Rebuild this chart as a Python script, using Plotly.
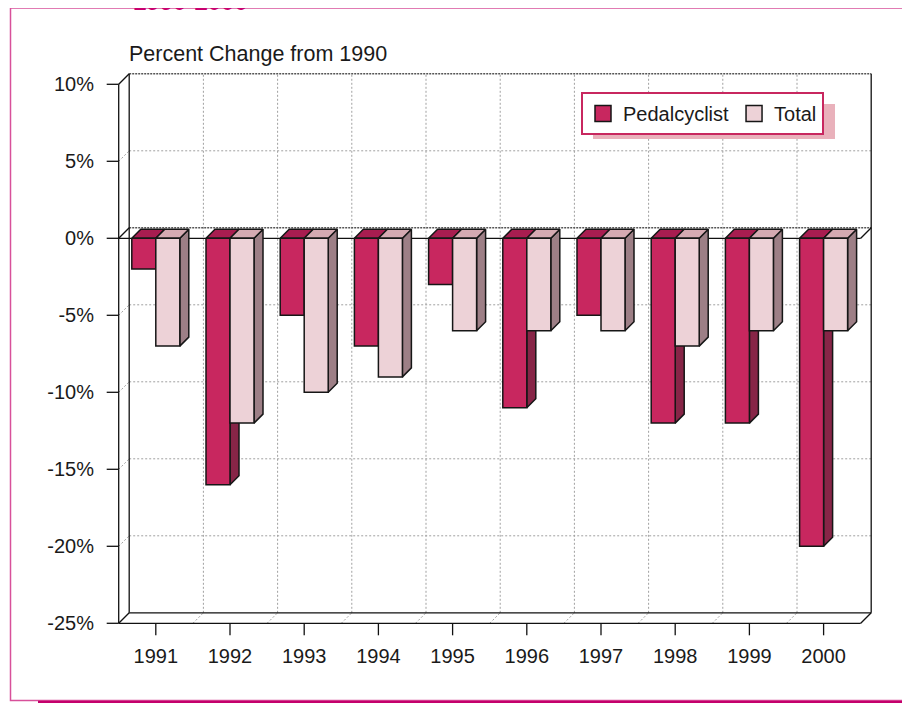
import plotly.graph_objects as go

# ---------------- data ----------------
years = ["1991", "1992", "1993", "1994", "1995", "1996", "1997", "1998", "1999", "2000"]
pedalcyclist = [-2, -16, -5, -7, -3, -11, -5, -12, -12, -20]
total = [-7, -12, -10, -9, -6, -6, -6, -7, -6, -6]
y_tick_vals = [10, 5, 0, -5, -10, -15, -20, -25]
y_tick_text = ["10%", "5%", "0%", "-5%", "-10%", "-15%", "-20%", "-25%"]
y_min, y_max = -25, 10

# ---------------- geometry (page pixels) ----------------
PAGE_W, PAGE_H = 910, 703
OFF = 8                                      # default body margin of the page
FIG_W, FIG_H = PAGE_W - OFF, PAGE_H - OFF
PL, PR, PT, PB = 105, 875, 70, 637           # plot area in page px
FX0 = 118.7                                  # px of front-left edge (x=-0.5)
XPX = 74.2                                   # px per category
FY0 = 238.3                                  # px of y=0 on the front plane
YPX = 15.4                                   # px per percent

x_range = [-0.5 - (FX0 - PL) / XPX, -0.5 + (PR - FX0) / XPX]
y_range = [-(PB - FY0) / YPX, (FY0 - PT) / YPX]

WDX, WDY = 10.5 / XPX, 10.5 / YPX            # wall depth
BW = 24.0 / XPX                               # bar width
BDX, BDY = 9.0 / XPX, 9.0 / YPX               # bar depth
TICKX, TICKY = 12.0 / XPX, 12.0 / YPX

n = len(years)
xl, xr_ = -0.5, n - 0.5


def px2x(p):
    return (p - PL) / (PR - PL)


def px2y(p):
    return (PB - p) / (PB - PT)


def segs(lines):
    xs, ys = [], []
    for (x0, y0, x1, y1) in lines:
        xs += [x0, x1, None]
        ys += [y0, y1, None]
    return xs, ys


def polys(plist):
    xs, ys = [], []
    for pts in plist:
        for (a, b) in pts + [pts[0]]:
            xs.append(a)
            ys.append(b)
        xs.append(None)
        ys.append(None)
    return xs, ys


fig = go.Figure()

# ---- gridlines (dotted grey) ----
grid = []
for v in y_tick_vals:
    if v in (y_min, y_max, 0):
        continue
    grid.append((xl + WDX, v + WDY, xr_ + WDX, v + WDY))      # back wall
    grid.append((xl, v, xl + WDX, v + WDY))                    # left wall
for i in range(n - 1):
    b = i + 0.5
    grid.append((b + WDX, y_min + WDY, b + WDX, y_max + WDY))  # back wall vertical
    grid.append((b, y_min, b + WDX, y_min + WDY))              # floor diagonal
gx, gy = segs(grid)
fig.add_trace(go.Scatter(x=gx, y=gy, mode="lines", line=dict(color="#a0a0a0", width=1, dash="2px,2px"),
                         hoverinfo="skip", showlegend=False))

# ---- dark dotted back lines (top edge, back zero line) ----
dx_, dy_ = segs([(xl + WDX, y_max + WDY, xr_ + WDX, y_max + WDY),
                 (xl + WDX, 0 + WDY, xr_ + WDX, 0 + WDY)])
fig.add_trace(go.Scatter(x=dx_, y=dy_, mode="lines", line=dict(color="#555555", width=1.5, dash="2px,1px"),
                         hoverinfo="skip", showlegend=False))

# ---- solid box edges, axis lines and ticks ----
edges = [
    (xl, y_min, xl, y_max),                                   # front left axis
    (xl, y_max, xl + WDX, y_max + WDY),                       # top-left diagonal
    (xl, y_min, xl + WDX, y_min + WDY),                       # bottom-left diagonal
    (xr_, y_min, xr_ + WDX, y_min + WDY),                     # bottom-right diagonal
    (xl, y_min, xr_, y_min),                                  # front floor
    (xl + WDX, y_min + WDY, xr_ + WDX, y_min + WDY),          # back floor
    (xl + WDX, y_min + WDY, xl + WDX, y_max + WDY),           # back left
    (xr_ + WDX, y_min + WDY, xr_ + WDX, y_max + WDY),         # back right
    (xl, 0, xr_, 0),                                          # zero plane front
    (xl, 0, xl + WDX, WDY),                                   # zero plane left
    (xr_, 0, xr_ + WDX, WDY),                                 # zero plane right
]
for v in y_tick_vals:
    edges.append((xl - TICKX, v, xl, v))
for i in range(n):
    edges.append((i, y_min, i, y_min - TICKY))
ex, ey = segs(edges)
fig.add_trace(go.Scatter(x=ex, y=ey, mode="lines", line=dict(color="#111111", width=1.3),
                         hoverinfo="skip", showlegend=False))


# ---- 3D bars ----
def bar_faces(values, offset):
    fronts, tops, sides = [], [], []
    for i, v in enumerate(values):
        x0 = i + offset
        x1 = x0 + BW
        fronts.append([(x0, 0), (x1, 0), (x1, v), (x0, v)])
        tops.append([(x0, 0), (x1, 0), (x1 + BDX, BDY), (x0 + BDX, BDY)])
        sides.append([(x1, 0), (x1 + BDX, BDY), (x1 + BDX, v + BDY), (x1, v)])
    return fronts, tops, sides


series = [
    (pedalcyclist, -BW, "#C8275F", "#A81D50", "#872547"),
    (total, 0.0, "#EDD2D7", "#D5AAB2", "#9D7F86"),
]
for vals, off, c_front, c_top, c_side in series:
    fr, tp, sd = bar_faces(vals, off)
    for faces, col in ((sd, c_side), (tp, c_top), (fr, c_front)):
        px_, py_ = polys(faces)
        fig.add_trace(go.Scatter(x=px_, y=py_, mode="lines", fill="toself", fillcolor=col,
                                 line=dict(color="#161616", width=1.5), hoverinfo="skip",
                                 showlegend=False))

# ---- legend entries ----
for name, col in (("Pedalcyclist", "#C8275F"), ("Total", "#EDD2D7")):
    fig.add_trace(go.Scatter(x=[None], y=[None], mode="markers", name=name,
                             marker=dict(symbol="square", size=16, color=col,
                                         line=dict(color="#161616", width=1.5))))

FONT = "Arial, Liberation Sans, sans-serif"

shapes = [
    # legend shadow
    dict(type="rect", xref="paper", yref="paper", layer="above",
         x0=px2x(593), x1=px2x(835), y0=px2y(104), y1=px2y(139),
         fillcolor="#E9B1BB", line=dict(width=0)),
    # outer frame
    dict(type="rect", xref="paper", yref="paper", layer="above",
         x0=px2x(10.5), x1=px2x(906), y0=px2y(8), y1=px2y(700.5),
         fillcolor="rgba(0,0,0,0)", line=dict(color="#D8509A", width=1.5)),
    dict(type="rect", xref="paper", yref="paper", layer="above",
         x0=px2x(906.3), x1=px2x(911), y0=px2y(34), y1=px2y(704),
         fillcolor="#C4006C", line=dict(width=0)),
    dict(type="rect", xref="paper", yref="paper", layer="above",
         x0=px2x(38), x1=px2x(911), y0=px2y(700.8), y1=px2y(704),
         fillcolor="#C4006C", line=dict(width=0)),
]

annotations = [
    dict(text="1990-2000", xref="paper", yref="paper", x=px2x(131), y=px2y(16.5),
         xanchor="left", yanchor="bottom", showarrow=False,
         font=dict(family=FONT, size=24, color="#C8006E", weight="bold")),
    dict(text="Percent Change from 1990", xref="paper", yref="paper", x=px2x(127), y=px2y(68),
         xanchor="left", yanchor="bottom", showarrow=False,
         font=dict(family=FONT, size=21.5, color="#1a1a1a")),
]

fig.update_layout(
    width=FIG_W, height=FIG_H,
    margin=dict(l=PL - OFF, r=(OFF + FIG_W) - PR, t=PT - OFF, b=(OFF + FIG_H) - PB, pad=0),
    paper_bgcolor="white", plot_bgcolor="white",
    font=dict(family=FONT, size=20, color="#1a1a1a"),
    xaxis=dict(range=x_range, tickmode="array", tickvals=list(range(n)), ticktext=years,
               showgrid=False, zeroline=False, showline=False, ticks="", ticklabelstandoff=5,
               tickfont=dict(size=20)),
    yaxis=dict(range=y_range, tickmode="array", tickvals=y_tick_vals, ticktext=y_tick_text,
               showgrid=False, zeroline=False, showline=False, ticks="", ticklabelstandoff=10,
               tickfont=dict(size=20)),
    legend=dict(orientation="h", x=px2x(581), y=px2y(92), xanchor="left", yanchor="top",
                bgcolor="white", bordercolor="#C8275F", borderwidth=2,
                font=dict(family=FONT, size=20, color="#1a1a1a")),
    shapes=shapes,
    annotations=annotations,
    showlegend=True,
)

fig.write_html("out.html")
